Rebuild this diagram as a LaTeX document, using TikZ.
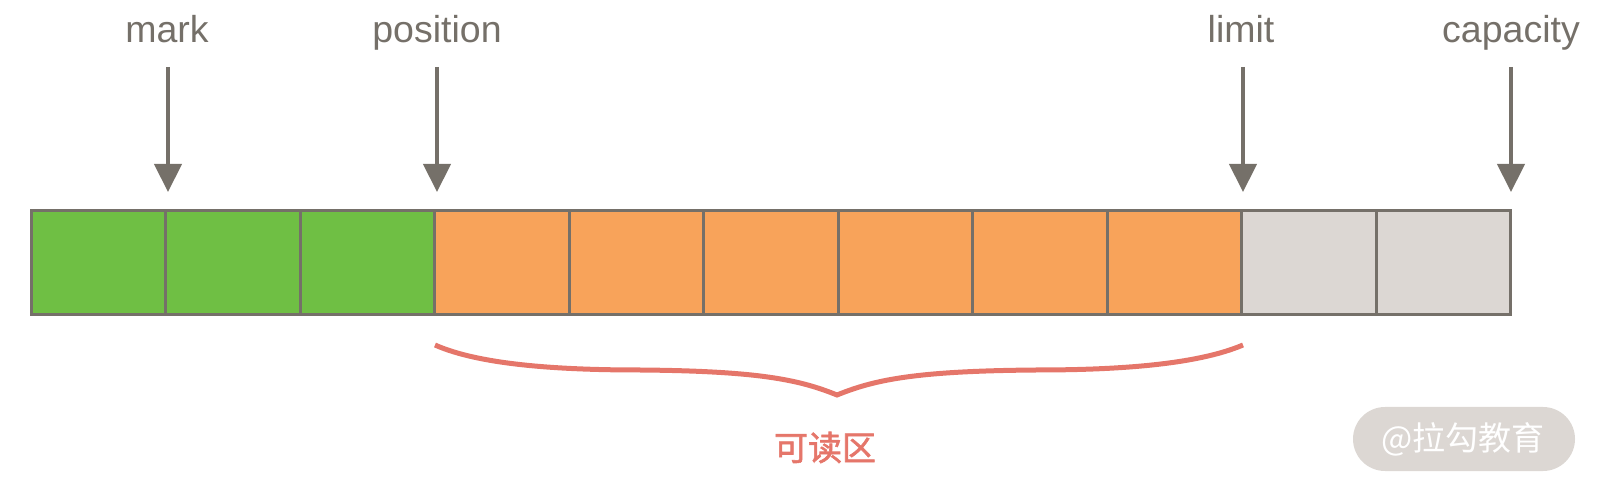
\documentclass[tikz,border=0pt]{standalone}
\usepackage{fontspec}
\setmainfont{Liberation Sans}
\newfontfamily\cjk{Noto Sans CJK SC}
\newfontfamily\cjkb[FakeBold=1.8]{Noto Sans CJK SC}
\usetikzlibrary{arrows.meta}
\definecolor{cgreen}{HTML}{6FBF44}
\definecolor{corange}{HTML}{F8A35A}
\definecolor{cgray}{HTML}{DCD7D3}
\definecolor{cborder}{HTML}{757069}
\definecolor{cred}{HTML}{E5766A}
\tikzset{
  cell/.style={draw=cborder, line width=3pt, minimum width=134.45pt, minimum height=104pt, inner sep=0pt, anchor=north west},
  lbl/.style={text=cborder, inner sep=0pt, anchor=base, font=\fontsize{37.5}{40}\selectfont},
  ptr/.style={draw=cborder, line width=4.3pt, -{Triangle[length=28pt,width=27pt]}},
}
\begin{document}
\begin{tikzpicture}[x=1pt,y=-1pt]
\useasboundingbox (0,0) rectangle (1610,486);
% cells
\foreach \i/\c in {0/cgreen,1/cgreen,2/cgreen,3/corange,4/corange,5/corange,6/corange,7/corange,8/corange,9/cgray,10/cgray}{
  \node[cell, fill=\c] (c\i) at ({30+134.45*\i},209) {};
}
% labels
\node[lbl] (lmark) at (167,43) {mark};
\node[lbl] (lpos) at (437,43) {position};
\node[lbl] (llim) at (1241,43) {limit};
\node[lbl] (lcap) at (1511,43) {capacity};
% arrows
\coordinate (tmark) at (168,67); \coordinate (hmark) at (168,192);
\coordinate (tpos) at (437,67); \coordinate (hpos) at (437,192);
\coordinate (tlim) at (1243,67); \coordinate (hlim) at (1243,192);
\coordinate (tcap) at (1511,67); \coordinate (hcap) at (1511,192);
\draw[ptr] (tmark) -- (hmark);
\draw[ptr] (tpos) -- (hpos);
\draw[ptr] (tlim) -- (hlim);
\draw[ptr] (tcap) -- (hcap);
% brace
\coordinate (bl) at (435,345); \coordinate (bt) at (837,395); \coordinate (br) at (1243,345);
\draw[cred, line width=5pt, line join=miter]
  (bl) .. controls (480,365) and (560,370) .. (640,370)
  .. controls (760,371) and (800,380) .. (bt)
  .. controls (874,380) and (914,371) .. (1036,370)
  .. controls (1116,370) and (1196,365) .. (br);
\node[text=cred, inner sep=0pt, font=\cjkb\fontsize{34}{36}\selectfont] (read) at (825,447.5) {可读区};
% watermark
\draw[fill=cgray, draw=none, rounded corners=32pt] (1353,407) rectangle (1575,471);
\node[text=white, inner sep=0pt, font=\cjk\fontsize{33}{35}\selectfont] (wm) at (1463,439) {@拉勾教育};
\end{tikzpicture}
\end{document}
